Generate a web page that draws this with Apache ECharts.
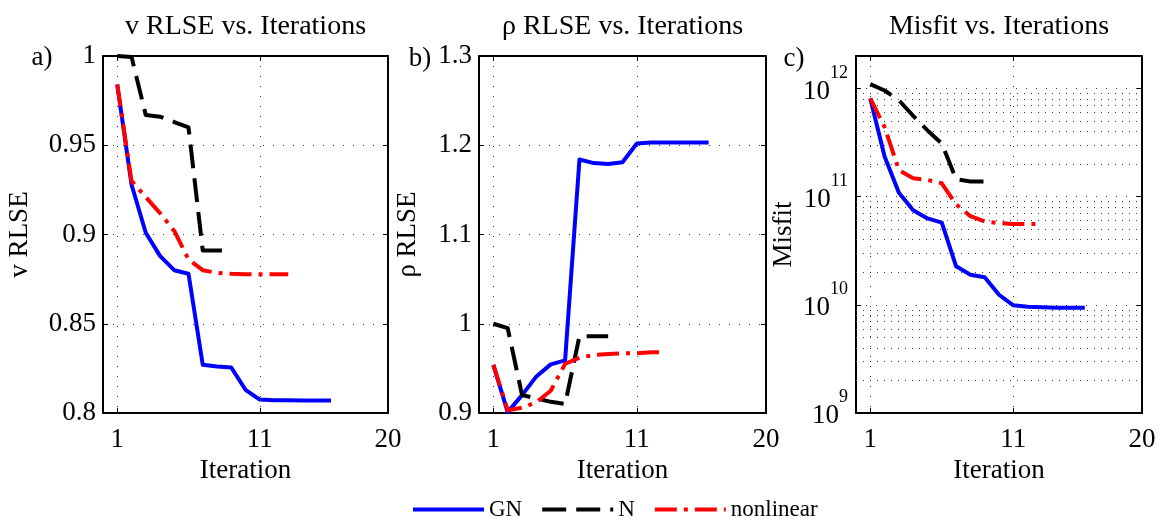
<!DOCTYPE html>
<html>
<head>
<meta charset="utf-8">
<script src="https://cdn.jsdelivr.net/npm/echarts@6/dist/echarts.min.js"></script>
<style>
  html, body { margin: 0; padding: 0; background: #fff; }
  #chart { width: 1160px; height: 518px; }
</style>
</head>
<body>
<div id="chart"></div>
<script>
// ---- data ---------------------------------------------------------------
const iterations = [1, 2, 3, 4, 5, 6, 7, 8, 9, 10, 11, 12, 13, 14, 15, 16];
const xTickValues = [1, 11, 20];

// v RLSE per iteration
const vGN = [0.984, 0.928, 0.901, 0.888, 0.880, 0.878, 0.827, 0.826, 0.8255, 0.813, 0.8075, 0.8072, 0.8071, 0.8070, 0.8070, 0.8070];
const vN = [1.0, 0.9995, 0.967, 0.966, 0.963, 0.960, 0.891, 0.891, 0.891];
const vNonlinear = [0.984, 0.930, 0.921, 0.912, 0.902, 0.886, 0.880, 0.8785, 0.878, 0.8778, 0.8777, 0.8777, 0.8777];

// rho RLSE per iteration
const rhoGN = [0.954, 0.901, 0.920, 0.941, 0.9545, 0.959, 1.184, 1.180, 1.179, 1.181, 1.202, 1.203, 1.203, 1.203, 1.203, 1.203];
const rhoN = [1.0, 0.995, 0.920, 0.9165, 0.9125, 0.910, 0.986, 0.986, 0.986];
const rhoNonlinear = [0.954, 0.903, 0.906, 0.912, 0.925, 0.955, 0.962, 0.965, 0.966, 0.967, 0.967, 0.968, 0.968];

// misfit per iteration
const misfitGN = [8.1e11, 2.35e11, 1.09e11, 7.5e10, 6.3e10, 5.75e10, 2.27e10, 1.9e10, 1.8e10, 1.24e10, 9.9e9, 9.6e9, 9.5e9, 9.4e9, 9.4e9, 9.4e9];
const misfitN = [1.1e12, 9.6e11, 7.8e11, 5.6e11, 4.1e11, 3.1e11, 1.45e11, 1.38e11, 1.38e11];
const misfitNonlinear = [8.1e11, 4.4e11, 1.76e11, 1.48e11, 1.43e11, 1.33e11, 8.5e10, 6.6e10, 5.9e10, 5.7e10, 5.6e10, 5.6e10, 5.6e10];

// minor grid values of the log axis
const logMinorTicks = [
  2e9, 3e9, 4e9, 5e9, 6e9, 7e9, 8e9, 9e9,
  2e10, 3e10, 4e10, 5e10, 6e10, 7e10, 8e10, 9e10,
  2e11, 3e11, 4e11, 5e11, 6e11, 7e11, 8e11, 9e11
];

const panelTitles = ['v RLSE vs. Iterations', '\u03c1 RLSE vs. Iterations', 'Misfit vs. Iterations'];
const panelLetters = ['a)', 'b)', 'c)'];
const yNames = ['v RLSE', '\u03c1 RLSE', 'Misfit'];
const seriesNames = ['GN', 'N', 'nonlinear'];

// ---- styling ------------------------------------------------------------
const FONT = '"Liberation Serif", "Times New Roman", "DejaVu Serif", serif';
const BLACK = '#000';
const LABEL_SIZE = 27;
const panels = [
  { left: 103, width: 285, labelMargin: 7, nameGap: 70 },
  { left: 479, width: 287, labelMargin: 7, nameGap: 58 },
  { left: 856, width: 286, labelMargin: 8, nameGap: 59 }
];
const gridTop = 56, gridHeight = 357;

const lineStyles = {
  GN: { color: '#0000ff', width: 4, type: 'solid' },
  N: { color: '#000000', width: 4, type: [24, 10] },
  nonlinear: { color: '#ff0000', width: 4, type: [22, 7, 4, 7] }
};

const dotted = { color: '#3a3a3a', width: 1, type: [1, 9] };
const textBase = { fontFamily: FONT, color: BLACK };

function pairs(values) {
  return values.map((v, i) => [iterations[i], v]);
}

const grids = panels.map(p => ({
  left: p.left, top: gridTop, width: p.width, height: gridHeight,
  containLabel: false, show: false
}));

const xAxes = [];
const yAxes = [];
const yRanges = [
  { type: 'value', min: 0.8, max: 1.0, interval: 0.05 },
  { type: 'value', min: 0.9, max: 1.3, interval: 0.1 },
  { type: 'log', logBase: 10, min: 1e9, max: 2e12 }
];

panels.forEach((p, gi) => {
  const axisLine = { show: true, onZero: false, lineStyle: { color: BLACK, width: 2 } };
  const tick = { show: true, inside: true, length: 5, lineStyle: { color: BLACK, width: 1 } };
  // bottom x axis with labels and grid
  xAxes.push({
    gridIndex: gi, type: 'value', min: 0, max: 20, position: 'bottom',
    axisLine,
    axisTick: Object.assign({ customValues: xTickValues }, tick),
    axisLabel: Object.assign({ customValues: xTickValues, margin: 13, fontSize: LABEL_SIZE }, textBase),
    splitLine: { show: true, lineStyle: dotted },
    name: 'Iteration', nameLocation: 'middle', nameGap: 41,
    nameTextStyle: Object.assign({ fontSize: LABEL_SIZE }, textBase)
  });
  // top mirror axis
  xAxes.push({
    gridIndex: gi, type: 'value', min: 0, max: 20, position: 'top',
    axisLine,
    axisTick: Object.assign({ customValues: xTickValues }, tick),
    axisLabel: { show: false },
    splitLine: { show: false }
  });

  const r = yRanges[gi];
  const isLog = r.type === 'log';
  const label = Object.assign({ margin: p.labelMargin, fontSize: LABEL_SIZE }, textBase);
  if (isLog) {
    label.formatter = v => {
      const e = Math.log10(v);
      if (Math.abs(e - Math.round(e)) > 1e-6) return '';
      return '{b|10}{s|' + Math.round(e) + '}';
    };
    label.padding = [0, 0, 8, 0];
    label.rich = {
      b: { fontFamily: FONT, fontSize: LABEL_SIZE, color: BLACK, verticalAlign: 'bottom', padding: [14, 0, 0, 0] },
      s: { fontFamily: FONT, fontSize: 18, color: BLACK, verticalAlign: 'top' }
    };
  }
  yAxes.push(Object.assign({
    gridIndex: gi, position: 'left',
    axisLine,
    axisTick: tick,
    axisLabel: label,
    splitLine: { show: true, lineStyle: dotted },
    name: yNames[gi], nameLocation: 'middle', nameGap: p.nameGap, nameRotate: 90,
    nameTextStyle: Object.assign({ fontSize: LABEL_SIZE }, textBase)
  }, r));
  yAxes.push(Object.assign({
    gridIndex: gi, position: 'right',
    axisLine,
    axisTick: tick,
    axisLabel: { show: false },
    splitLine: { show: false }
  }, r));
});

const panelData = [
  [vGN, vN, vNonlinear],
  [rhoGN, rhoN, rhoNonlinear],
  [misfitGN, misfitN, misfitNonlinear]
];

const series = [];
panelData.forEach((sets, gi) => {
  sets.forEach((vals, si) => {
    const name = seriesNames[si];
    series.push({
      name, type: 'line',
      xAxisIndex: gi * 2, yAxisIndex: gi * 2,
      data: pairs(vals),
      symbol: 'none', showSymbol: false,
      lineStyle: Object.assign({ cap: 'butt', join: 'round' }, lineStyles[name]),
      itemStyle: { color: lineStyles[name].color },
      z: 3
    });
  });
});

// minor decade grid of the misfit panel
series.push({
  name: 'minor-grid', type: 'line',
  xAxisIndex: 4, yAxisIndex: 4,
  data: [],
  silent: true,
  z: 1,
  markLine: {
    silent: true, symbol: 'none', animation: false,
    label: { show: false },
    lineStyle: { color: '#3a3a3a', width: 1, type: [1, 6] },
    emphasis: { disabled: true },
    data: logMinorTicks.map(v => ({ yAxis: v }))
  }
});

const graphics = [];
const titleCenters = panels.map(p => p.left + p.width / 2);
panelTitles.forEach((t, i) => {
  graphics.push({
    type: 'text', x: titleCenters[i], y: 27,
    style: { text: t, fill: BLACK, font: '28px ' + FONT, align: 'center', verticalAlign: 'middle',
             textAlign: 'center', textVerticalAlign: 'middle' }
  });
});
const letterPos = [[42, 58], [420, 59], [794, 59]];
panelLetters.forEach((t, i) => {
  graphics.push({
    type: 'text', x: letterPos[i][0], y: letterPos[i][1],
    style: { text: t, fill: BLACK, font: LABEL_SIZE + 'px ' + FONT, align: 'center', verticalAlign: 'middle',
             textAlign: 'center', textVerticalAlign: 'middle' }
  });
});

const chart = echarts.init(document.getElementById('chart'), null, { renderer: 'canvas' });
chart.setOption({
  animation: false,
  backgroundColor: '#fff',
  grid: grids,
  xAxis: xAxes,
  yAxis: yAxes,
  series,
  graphic: graphics,
  legend: {
    data: seriesNames,
    left: 406, top: 493,
    itemWidth: 71, itemHeight: 14, itemGap: 18,
    itemStyle: { opacity: 0 },
    lineStyle: { width: 4 },
    textStyle: Object.assign({ fontSize: 23 }, textBase)
  }
});
</script>
</body>
</html>
